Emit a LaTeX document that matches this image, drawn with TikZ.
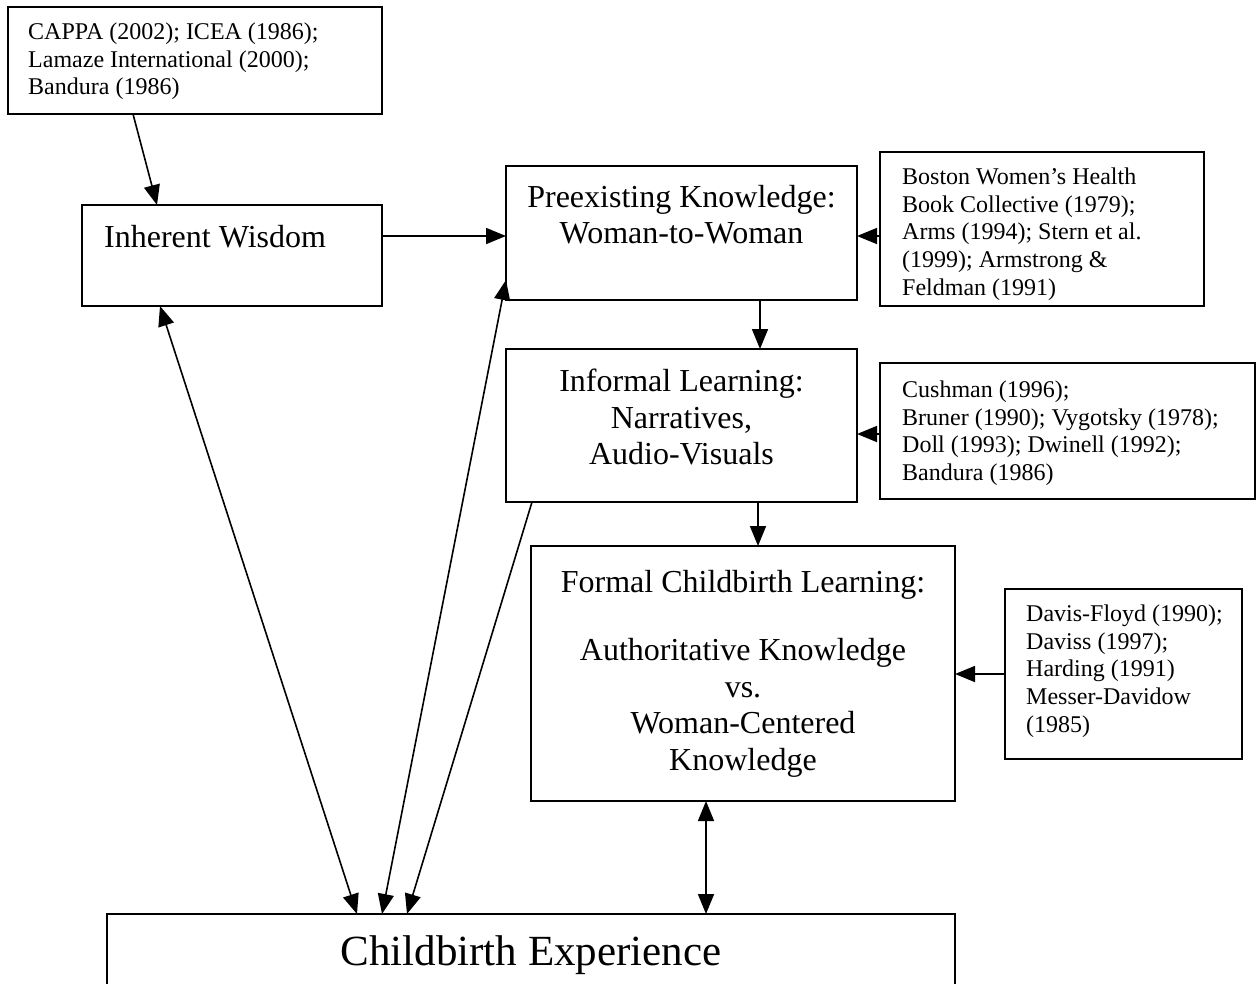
\documentclass[tikz,border=0pt]{standalone}
\usepackage{fontspec}
\setmainfont{Liberation Serif}
\usetikzlibrary{arrows.meta}
\tikzset{
  box/.style={draw, line width=1.6pt, inner sep=0pt, outer sep=0pt},
  small/.style={font=\fontsize{24}{27.7}\selectfont, align=left, anchor=north west, inner sep=0pt},
  big/.style={font=\fontsize{32}{36.5}\selectfont, align=center, anchor=north, inner sep=0pt},
  arr/.style={line width=1.6pt, -{Triangle[length=20pt,width=16pt]}},
  darr/.style={line width=1.6pt, {Triangle[length=20pt,width=16pt]}-{Triangle[length=20pt,width=16pt]}}
}
\begin{document}
\begin{tikzpicture}[x=1pt,y=-1pt]
\useasboundingbox (0,0) rectangle (1258,983);
\clip (0,0) rectangle (1258,983);
% boxes
\node[box, minimum width=374pt, minimum height=107pt] (r1) at (195,60.5) {};
\node[box, minimum width=300pt, minimum height=101pt] (inh) at (232,255.5) {};
\node[box, minimum width=351pt, minimum height=134pt] (pre) at (681.5,233) {};
\node[box, minimum width=324pt, minimum height=154pt] (bos) at (1042,229) {};
\node[box, minimum width=351pt, minimum height=153pt] (inf) at (681.5,425.5) {};
\node[box, minimum width=375pt, minimum height=136pt] (cus) at (1067.5,431) {};
\node[box, minimum width=424pt, minimum height=255pt] (frm) at (743,673.5) {};
\node[box, minimum width=237pt, minimum height=170pt] (dav) at (1123.5,674) {};
\node[box, minimum width=848pt, minimum height=192pt] (cb) at (531,1010) {};
% texts
\node[small] (r1t) at (28,22.5) {CAPPA (2002); ICEA (1986);\\Lamaze International (2000);\\Bandura (1986)};
\node[font=\fontsize{32}{36.5}\selectfont, anchor=base west, inner sep=0pt] (inht) at (104,247) {Inherent Wisdom};
\node[big] (pret) at (681.5,185) {Preexisting Knowledge:\\Woman-to-Woman};
\node[small] (bost) at (902,167.5) {Boston Women’s Health\\Book Collective (1979);\\Arms (1994); Stern et al.\\(1999); Armstrong \&\\Feldman (1991)};
\node[big] (inft) at (681.5,369) {Informal Learning:\\Narratives,\\Audio-Visuals};
\node[small] (cust) at (902,380.5) {Cushman (1996);\\Bruner (1990); Vygotsky (1978);\\Doll (1993); Dwinell (1992);\\Bandura (1986)};
\node[big] (frmt) at (743,570) {Formal Childbirth Learning:\\[32pt]Authoritative Knowledge\\vs.\\Woman-Centered\\Knowledge};
\node[small] (davt) at (1026,604.5) {Davis-Floyd (1990);\\Daviss (1997);\\Harding (1991)\\Messer-Davidow\\(1985)};
\node[font=\fontsize{43}{50}\selectfont, anchor=base, inner sep=0pt] (cbt) at (531,965) {Childbirth Experience};
% connectors
\draw[arr] ([xshift=125pt]r1.south west) -- ([xshift=75pt]inh.north west);
\draw[arr] (inh.east |- 0,236) -- (pre.west |- 0,236);
\draw[arr] (bos.west |- 0,236) -- (pre.east |- 0,236);
\draw[arr] (pre.south -| 760,0) -- (inf.north -| 760,0);
\draw[arr] (cus.west |- 0,434) -- (inf.east |- 0,434);
\draw[arr] (inf.south -| 758,0) -- (frm.north -| 758,0);
\draw[arr] (dav.west |- 0,674) -- (frm.east |- 0,674);
\draw[darr] (frm.south -| 706,0) -- (cb.north -| 706,0);
\draw[darr] (inh.south -| 160,0) -- (cb.north -| 357,0);
\draw[darr] (pre.west |- 0,280) -- (cb.north -| 382,0);
\draw[arr] (inf.south -| 532,0) -- (cb.north -| 407,0);
\end{tikzpicture}
\end{document}
